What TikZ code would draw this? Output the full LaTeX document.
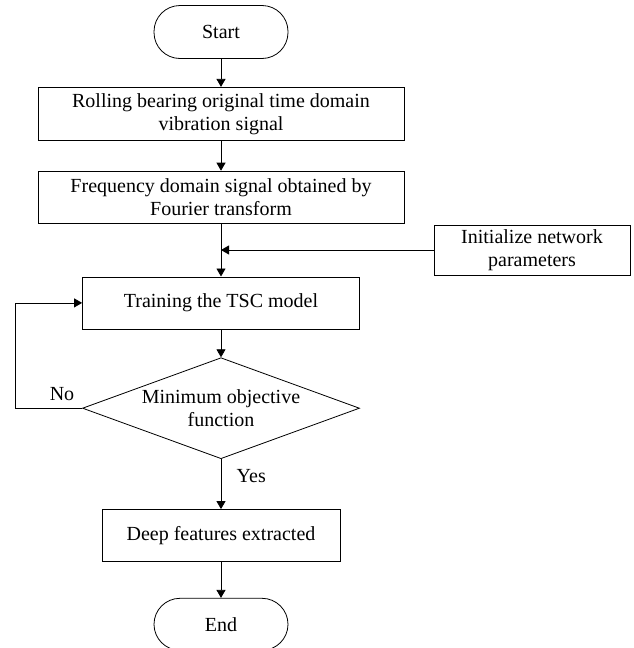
\documentclass[tikz,border=0pt]{standalone}
\usepackage{fontspec}
\setmainfont{Liberation Serif}
\usepackage{tikz}
\usetikzlibrary{arrows.meta,positioning,shapes.geometric}

\begin{document}
\begin{tikzpicture}[
    x=1pt,y=1pt,
    >={Triangle[length=8pt,width=9pt]},
    line width=0.8pt,
    every node/.style={font=\fontsize{20}{23}\selectfont},
    box/.style={draw,rectangle,align=center,minimum height=53pt,inner sep=3pt},
    term/.style={draw,rectangle,rounded corners=26pt,minimum width=134pt,minimum height=53pt},
    decide/.style={draw,diamond,aspect=2.74,inner sep=0pt,align=center,
        minimum width=277pt,minimum height=101pt}
]
\useasboundingbox (0,0) rectangle (634,-648);

% Start
\node[term] (start) at (221,-32) {Start};

% signal
\node[box,below=28pt of start,minimum width=366pt] (rolling)
{Rolling bearing original time domain\\vibration signal};

\node[box,below=30pt of rolling,minimum width=366pt,minimum height=52pt] (fourier)
{Frequency domain signal obtained by\\Fourier transform};

% training
\node[box,below=53pt of fourier,minimum width=277pt,minimum height=52pt] (train)
{Training the TSC model};

\node[box,minimum width=196pt,minimum height=50pt] (init) at (532,-250)
{Initialize network\\parameters};

\node[decide,below=28pt of train] (judge)
{Minimum objective\\function};

\node[box,below=50pt of judge,minimum width=238pt,minimum height=52pt] (deep)
{Deep features extracted};

\node[term,below=36pt of deep,minimum height=52pt] (stop) {End};

% arrows
\coordinate (merge) at (fourier.south |- init.west);

\draw[->] (start) -- (rolling);
\draw[->] (rolling) -- (fourier);
\draw[->] (fourier) -- (train);
\draw[->] (init) -- (merge);
\draw[->] (train) -- (judge);
\draw[->] (judge) -- node[pos=0.33,right=12pt]{Yes} (deep);
\draw[->] (deep) -- (stop);
\draw[->] (judge.west) -- node[pos=0.3,above=4pt]{No} ++(-67,0) |- (train.west);

\end{tikzpicture}
\end{document}
